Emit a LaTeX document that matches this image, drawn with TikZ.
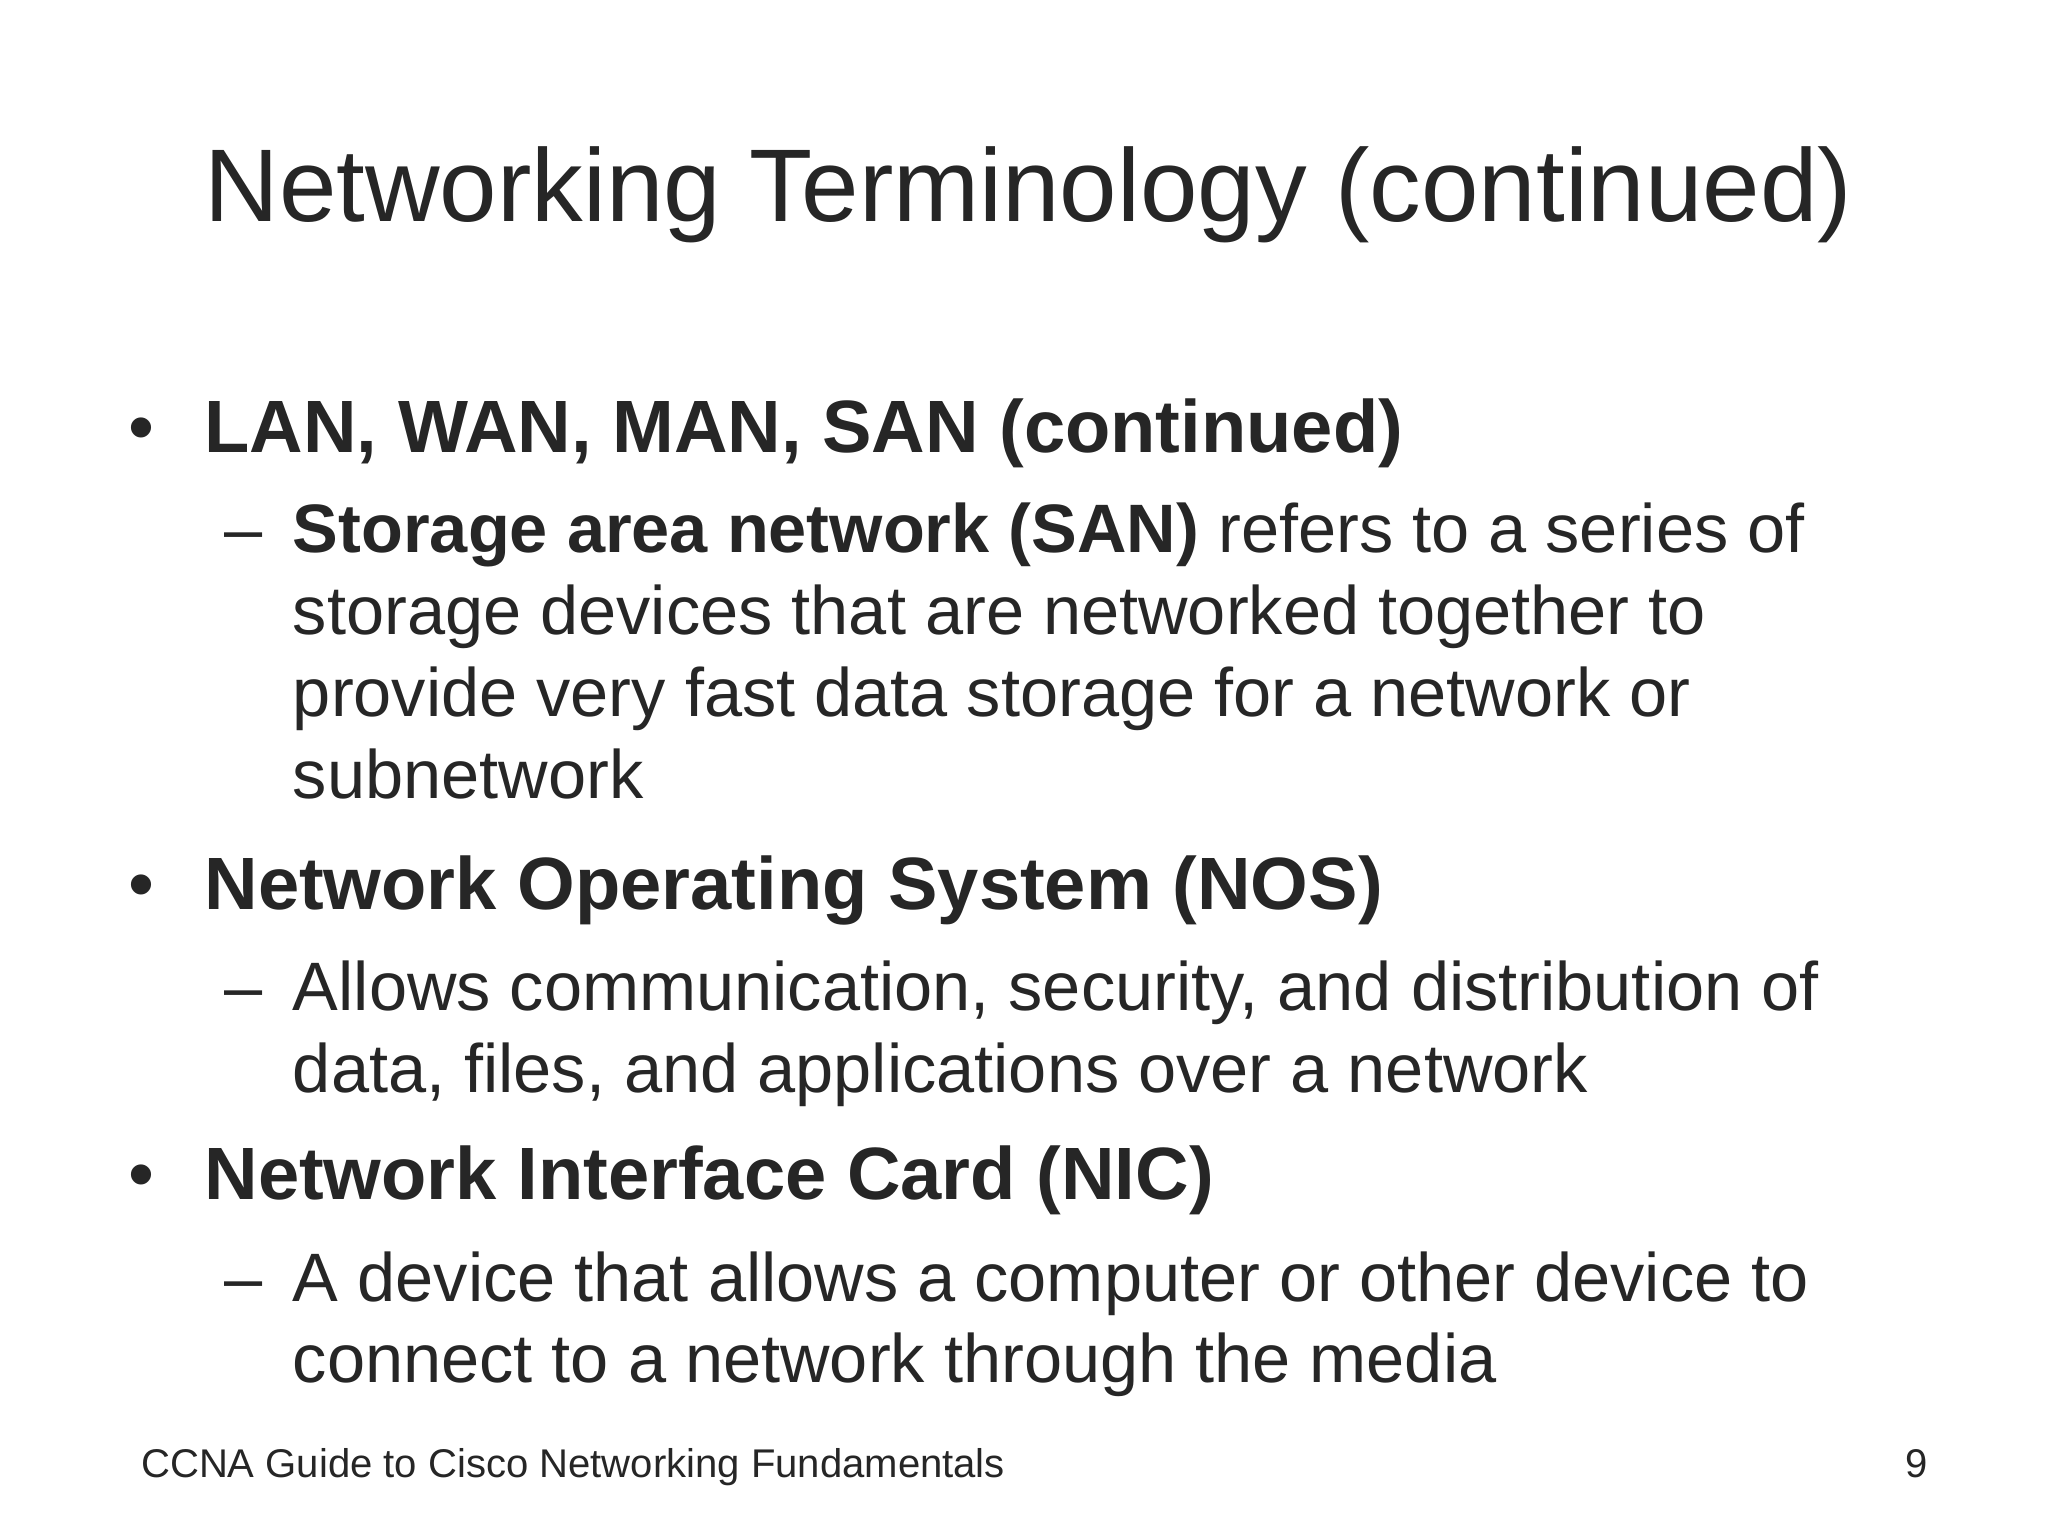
\documentclass[tikz,border=0pt]{standalone}
\usepackage{fontspec}
\setmainfont{Liberation Sans}
\definecolor{txt}{HTML}{262626}
\begin{document}
\begin{tikzpicture}[x=0.013196cm,y=-0.013196cm,
  every node/.style={inner sep=0pt,outer sep=0pt,text=txt,anchor=base west},
  ttl/.style={font=\fontsize{29.4}{36}\selectfont},
  head/.style={font=\fontsize{21.1}{26}\selectfont},
  big/.style={font=\fontsize{19.5}{24}\selectfont},
  foot/.style={font=\fontsize{11.4}{14}\selectfont}]
\useasboundingbox (0,0) rectangle (1552,1164);
\node[ttl] (title) at (155,168) {Networking Terminology (continued)};
\node[head] (b1) at (97,343) {•};
\node[head] (t1) at (155,343) {\bfseries LAN, WAN, MAN, SAN (continued)};
\node[big] (d1) at (170,419) {–};
\node[big] (s1a) at (222,419) {\bfseries Storage area network (SAN)\mdseries{} refers to a series of};
\node[big] (s1b) at (222,481) {storage devices that are networked together to};
\node[big] (s1c) at (222,543) {provide very fast data storage for a network or};
\node[big] (s1d) at (222,605) {subnetwork};
\node[head] (b2) at (97,689) {•};
\node[head] (t2) at (155,689) {\bfseries Network Operating System (NOS)};
\node[big] (d2) at (170,766) {–};
\node[big] (s2a) at (222,766) {Allows communication, security, and distribution of};
\node[big] (s2b) at (222,828) {data, files, and applications over a network};
\node[head] (b3) at (97,909) {•};
\node[head] (t3) at (155,909) {\bfseries Network Interface Card (NIC)};
\node[big] (d3) at (170,986) {–};
\node[big] (s3a) at (222,986) {A device that allows a computer or other device to};
\node[big] (s3b) at (222,1048) {connect to a network through the media};
\node[foot] (f1) at (107,1120) {CCNA Guide to Cisco Networking Fundamentals};
\node[foot,anchor=base east] (f2) at (1461,1120) {9};
\end{tikzpicture}
\end{document}
